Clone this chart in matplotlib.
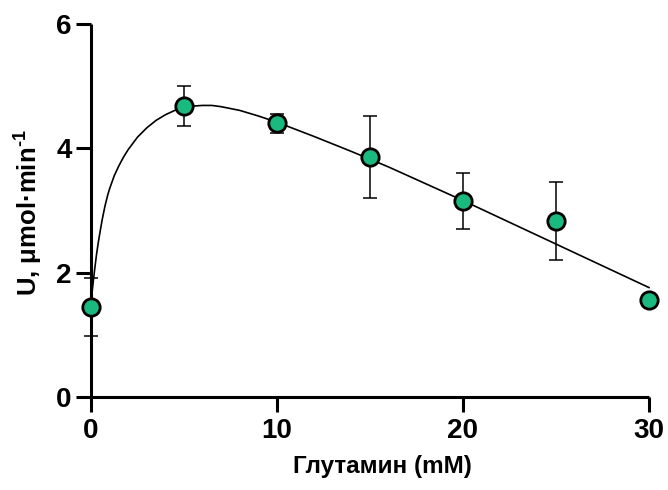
import matplotlib
matplotlib.use("Agg")
from matplotlib import pyplot as plt

# measured points (mean +/- error)
glutamine_mm = [0, 5, 10, 15, 20, 25, 30]
rate = [1.45, 4.68, 4.40, 3.86, 3.15, 2.83, 1.56]
rate_err = [0.47, 0.32, 0.15, 0.66, 0.45, 0.63, 0.0]

# fitted curve
fit_x = [0, 0.05, 0.1, 0.2, 0.3, 0.4, 0.5, 0.6, 0.75, 0.9, 1.0, 1.25, 1.5, 1.75,
         2.0, 2.5, 3.0, 3.5, 4.0, 4.5, 5.0, 5.5, 6.0, 6.5, 7.0, 8.0, 9.0, 10,
         12, 14, 16, 18, 20, 22, 24, 26, 28, 30]
fit_y = [1.52, 1.66, 1.80, 2.06, 2.30, 2.50, 2.68, 2.85, 3.07, 3.25, 3.35, 3.56,
         3.72, 3.86, 3.98, 4.18, 4.33, 4.45, 4.54, 4.61, 4.65, 4.68, 4.69, 4.69,
         4.67, 4.61, 4.52, 4.42, 4.19, 3.95, 3.70, 3.43, 3.16, 2.88, 2.60, 2.32,
         2.04, 1.76]

x_ticks = [0, 10, 20, 30]
y_ticks = [0, 2, 4, 6]


def main():
    plt.rcParams["font.family"] = ["Liberation Sans", "DejaVu Sans"]
    plt.rcParams["font.weight"] = "bold"
    plt.rcParams["mathtext.fontset"] = "custom"
    plt.rcParams["mathtext.bf"] = "Liberation Sans:bold"
    plt.rcParams["mathtext.rm"] = "Liberation Sans:bold"

    fig = plt.figure(figsize=(6.68, 4.9), dpi=100)
    ax = fig.add_axes([91 / 668, 1 - 397 / 490, 558 / 668, 373 / 490])

    ax.plot(fit_x, fit_y, color="black", lw=1.2, clip_on=False, zorder=2)
    ax.errorbar(glutamine_mm, rate, yerr=rate_err, fmt="none", ecolor="black",
                elinewidth=1.1, capsize=5.3, capthick=1.1, clip_on=False, zorder=3)
    ax.plot(glutamine_mm, rate, "o", ms=12.5, mfc="#1AB97F", mec="black", mew=2.0,
            clip_on=False, zorder=4)

    ax.set_xlim(0, 30)
    ax.set_ylim(0, 6)
    ax.set_xticks(x_ticks)
    ax.set_yticks(y_ticks)

    for side in ["top", "right"]:
        ax.spines[side].set_visible(False)
    for side in ["left", "bottom"]:
        ax.spines[side].set_linewidth(2.2)
        ax.spines[side].set_capstyle("butt")
    ax.tick_params(direction="out", length=11, width=2.2, labelsize=20, pad=3)
    ax.tick_params(axis="x", pad=4)

    ax.set_xlabel("Глутамин (mM)", fontsize=17.5, fontweight="bold")
    ax.xaxis.set_label_coords(0.522, -0.155)
    ax.set_ylabel("U, μmol·min$^{\\text{-1}}$", fontsize=18.5, fontweight="bold")
    ax.yaxis.set_label_coords(-0.085, 0.495)

    fig.savefig("out.png", dpi=100)


if __name__ == "__main__":
    main()
